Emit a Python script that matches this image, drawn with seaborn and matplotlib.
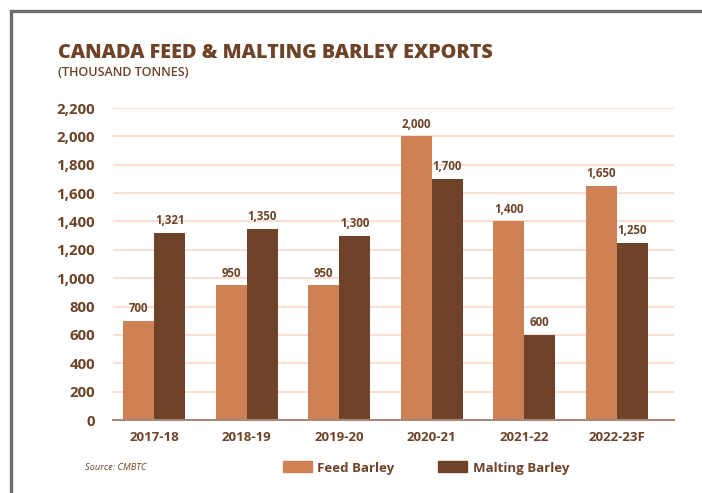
import matplotlib
matplotlib.use("Agg")
import matplotlib.pyplot as plt
import matplotlib.patches as mpatches
from matplotlib.lines import Line2D
import seaborn as sns
import pandas as pd

# Export volumes, thousand tonnes
seasons = ["2017-18", "2018-19", "2019-20", "2020-21", "2021-22", "2022-23F"]
feed_barley = [700, 950, 950, 2000, 1400, 1650]
malting_barley = [1321, 1350, 1300, 1700, 600, 1250]
series_names = ["Feed Barley", "Malting Barley"]
y_ticks = [0, 200, 400, 600, 800, 1000, 1200, 1400, 1600, 1800, 2000, 2200]

FEED_COLOR = "#cf8156"
MALT_COLOR = "#6f4329"
TEXT_COLOR = "#6e4328"
GRID_COLOR = "#fadccb"

df = pd.DataFrame({
    "season": seasons * 2,
    "value": feed_barley + malting_barley,
    "type": [series_names[0]] * len(seasons) + [series_names[1]] * len(seasons),
})

sns.set_theme(style="white")
plt.rcParams["font.family"] = ["Open Sans", "DejaVu Sans"]

fig = plt.figure(figsize=(7.02, 4.93), dpi=100)
fig.patch.set_facecolor("white")
ax = fig.add_axes([113 / 702, 1 - 420 / 493, (674 - 113) / 702, (420 - 108) / 493])

sns.barplot(data=df, x="season", y="value", hue="type", order=seasons,
            hue_order=series_names, palette=[FEED_COLOR, MALT_COLOR],
            width=0.67, gap=0, saturation=1, linewidth=0, ax=ax, legend=False,
            zorder=3)

for container in ax.containers:
    ax.bar_label(container, labels=[f"{v:,.0f}" for v in container.datavalues],
                 padding=4, fontsize=8.3, fontweight="bold", color=TEXT_COLOR)

ax.set_xlim(-0.446, 5.62)
ax.set_ylim(0, 2200)
ax.set_yticks(y_ticks)
ax.set_yticklabels([f"{t:,}" for t in y_ticks])
ax.yaxis.grid(True, color=GRID_COLOR, linewidth=1.3, zorder=0)
ax.set_axisbelow(True)
for side in ["top", "right", "left"]:
    ax.spines[side].set_visible(False)
ax.spines["bottom"].set_color("#a58a78")
ax.spines["bottom"].set_linewidth(1.5)
ax.spines["bottom"].set_zorder(4)
ax.set_xlabel("")
ax.set_ylabel("")
ax.tick_params(axis="both", length=0, labelcolor=TEXT_COLOR)
ax.tick_params(axis="y", pad=13, labelsize=10.8)
ax.tick_params(axis="x", pad=8, labelsize=9.5)
for lbl in ax.get_xticklabels() + ax.get_yticklabels():
    lbl.set_fontweight("bold")

# Titles
fig.text(58 / 702, 1 - 53 / 493, "CANADA FEED & MALTING BARLEY EXPORTS",
         fontsize=14.2, fontweight="heavy", color=TEXT_COLOR, va="center", ha="left")
fig.text(58 / 702, 1 - 72 / 493, "(THOUSAND TONNES)",
         fontsize=9, fontweight="semibold", color=TEXT_COLOR, va="center", ha="left")

# Source note
fig.text(85 / 702, 1 - 467 / 493, "Source: CMBTC", fontsize=6.7,
         fontstyle="italic", color=TEXT_COLOR, va="center", ha="left")

# Legend
handles = [mpatches.Patch(color=FEED_COLOR, label=series_names[0]),
           mpatches.Patch(color=MALT_COLOR, label=series_names[1])]
leg = fig.legend(handles=handles, loc="center", bbox_to_anchor=(426 / 702, 1 - 468 / 493),
                 ncol=2, frameon=False, fontsize=9.5, handlelength=2.2, handleheight=0.9,
                 columnspacing=3.3, handletextpad=0.45)
for t in leg.get_texts():
    t.set_color(TEXT_COLOR)
    t.set_fontweight("bold")

# Outer frame along the top and left edges
fig.add_artist(Line2D([10.5 / 702, 10.5 / 702, 1.0], [0.0, 1 - 10.5 / 493, 1 - 10.5 / 493],
                      transform=fig.transFigure, color="#6b6b6b", linewidth=2.4,
                      solid_joinstyle="miter"))

fig.savefig("out.png", dpi=100, facecolor="white")
